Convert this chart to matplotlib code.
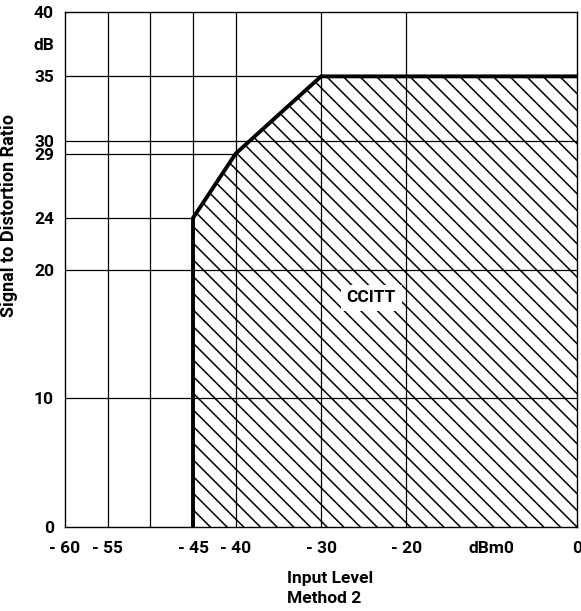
import matplotlib
matplotlib.use('Agg')
import matplotlib.pyplot as plt

plt.rcParams['font.family'] = ['DejaVu Sans Condensed', 'Liberation Sans Narrow', 'Roboto', 'DejaVu Sans']
plt.rcParams['font.size'] = 12.5
plt.rcParams['font.weight'] = 'bold'
plt.rcParams['axes.labelweight'] = 'bold'
plt.rcParams['hatch.linewidth'] = 1.1

# CCITT limit curve (input level dBm0 -> S/D ratio dB)
curve_x = [-45, -45, -40, -30, 0]
curve_y = [0, 24, 29, 35, 35]

# grid lines
grid_x = [-55, -50, -45, -40, -30, -20]
grid_y = [10, 20, 30, 35]

xtick_vals = [-60, -55, -45, -40, -30, -20, -10, 0]
xtick_labels = ['- 60', '- 55', '- 45', '- 40', '- 30', '- 20', 'dBm0', '0']
ytick_vals = [0, 10, 20, 24, 29, 30, 35, 37.5, 40]
ytick_labels = ['0', '10', '20', '24', '29', '30', '35', 'dB', '40']

fig = plt.figure(figsize=(5.81, 6.11), dpi=100)
ax = fig.add_axes([65 / 581, 1 - 527 / 611, 512 / 581, 515 / 611])

ax.set_xlim(-60, 0)
ax.set_ylim(0, 40)

# hatched region below the limit
ax.fill_between(curve_x[1:], curve_y[1:], 0, facecolor='none', edgecolor='black',
                hatch='\\\\', linewidth=0, zorder=1)

# grid
for gx in grid_x:
    ax.axvline(gx, color='black', lw=0.9, zorder=2)
for gy in grid_y:
    ax.axhline(gy, color='black', lw=0.9, zorder=2)
# short lines at the knee points
for kx, ky in zip(curve_x[1:3], curve_y[1:3]):
    ax.hlines(ky, -60, kx, color='black', lw=0.9, zorder=2)

ax.plot(curve_x, curve_y, color='black', lw=2.8, solid_joinstyle='miter', zorder=3)

ax.text(-24.1, 17.8, 'CCITT', ha='center', va='center', zorder=4,
        bbox=dict(facecolor='white', edgecolor='none', pad=4))

ax.set_xticks(xtick_vals)
ax.set_xticklabels(xtick_labels)
ax.set_yticks(ytick_vals)
ax.set_yticklabels(ytick_labels)
ax.tick_params(axis='both', length=0)
ax.tick_params(axis='y', pad=8)
ax.tick_params(axis='x', pad=10)

for s in ax.spines.values():
    s.set_linewidth(1.0)

ax.set_ylabel('Signal to Distortion Ratio', fontsize=13)
ax.yaxis.set_label_coords(-0.092, 0.604)
ax.text(0.434, -0.119, 'Input Level\nMethod 2', transform=ax.transAxes,
        ha='left', va='center', linespacing=1.4)

fig.savefig('out.png', dpi=100)
